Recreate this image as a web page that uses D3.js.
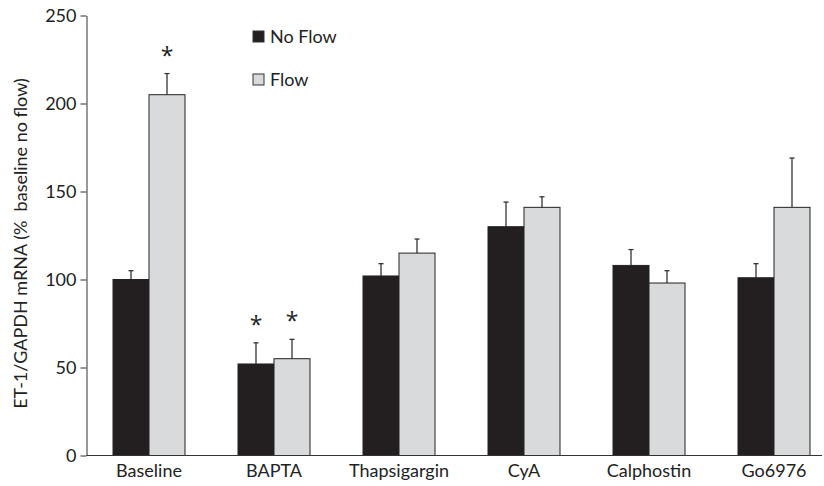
<!DOCTYPE html>
<html>
<head>
<meta charset="utf-8">
<script src="https://cdn.jsdelivr.net/npm/d3@7"></script>
<style>
  body { margin: 0; background: #fff; }
  text { font-family: Lato, "Open Sans", sans-serif; fill: #222; }
</style>
</head>
<body>
<div id="chart"></div>
<script>
var categories = ["Baseline", "BAPTA", "Thapsigargin", "CyA", "Calphostin", "Go6976"];
var series = ["No Flow", "Flow"];
var noFlow = [100, 52, 102, 130, 108, 101];
var noFlowErr = [5, 12, 7, 14, 9, 8];
var flow = [205, 55, 115, 141, 98, 141];
var flowErr = [12, 11, 8, 6, 7, 28];
// which bars carry a significance star
var noFlowStar = [false, true, false, false, false, false];
var flowStar = [true, true, false, false, false, false];
var yTicks = [0, 50, 100, 150, 200, 250];
var colors = ["#231f20", "#d9dadc"];

var width = 824, height = 486;
var margin = {top: 15.5, right: 0, bottom: 30.5, left: 86.5};
var plotH = height - margin.top - margin.bottom;

var svg = d3.select("#chart").append("svg")
    .attr("width", width)
    .attr("height", height);

var xScale = d3.scaleBand()
    .domain(categories)
    .range([margin.left, margin.left + 750])
    .paddingInner(0.424)
    .paddingOuter(0.212);

var xSub = d3.scaleBand()
    .domain(series)
    .range([0, xScale.bandwidth()]);

var yScale = d3.scaleLinear()
    .domain([0, 250])
    .range([margin.top + plotH, margin.top]);

// y axis
var yAxis = svg.append("g")
    .attr("transform", "translate(" + margin.left + ",0)")
    .call(d3.axisLeft(yScale).tickValues(yTicks).tickSize(6).tickSizeOuter(0));
yAxis.select(".domain").attr("stroke", "#333");
yAxis.selectAll(".tick line").attr("stroke", "#333");
yAxis.selectAll(".tick text")
    .attr("x", -10)
    .style("font-size", "18px")
    .style("font-family", "Lato, sans-serif")
    .attr("fill", "#222");

svg.append("text")
    .attr("transform", "translate(27," + (margin.top + plotH / 2 + 8) + ") rotate(-90)")
    .attr("text-anchor", "middle")
    .attr("xml:space", "preserve")
    .style("white-space", "pre")
    .style("font-size", "18px")
    .text("ET-1/GAPDH mRNA (%  baseline no flow)");

var rows = categories.map(function(c, i) {
    return [
        {cat: c, s: series[0], v: noFlow[i], e: noFlowErr[i], star: noFlowStar[i], color: colors[0]},
        {cat: c, s: series[1], v: flow[i], e: flowErr[i], star: flowStar[i], color: colors[1]}
    ];
});
var bars = [].concat.apply([], rows);

function barX(d) { return xScale(d.cat) + xSub(d.s); }

// error bars (drawn first so the bar covers the base)
var err = svg.append("g").selectAll("g.err")
    .data(bars)
    .enter().append("g")
    .attr("class", "err");
err.append("line")
    .attr("x1", function(d) { return barX(d) + xSub.bandwidth() / 2; })
    .attr("x2", function(d) { return barX(d) + xSub.bandwidth() / 2; })
    .attr("y1", function(d) { return yScale(d.v); })
    .attr("y2", function(d) { return yScale(d.v + d.e); })
    .attr("stroke", "#333")
    .attr("stroke-width", 1.3);
err.append("line")
    .attr("x1", function(d) { return barX(d) + xSub.bandwidth() / 2 - 2.5; })
    .attr("x2", function(d) { return barX(d) + xSub.bandwidth() / 2 + 2.5; })
    .attr("y1", function(d) { return yScale(d.v + d.e); })
    .attr("y2", function(d) { return yScale(d.v + d.e); })
    .attr("stroke", "#333")
    .attr("stroke-width", 1.3);

svg.append("g").selectAll("rect")
    .data(bars)
    .enter().append("rect")
    .attr("x", barX)
    .attr("y", function(d) { return yScale(d.v); })
    .attr("width", xSub.bandwidth())
    .attr("height", function(d) { return yScale(0) - yScale(d.v); })
    .attr("fill", function(d) { return d.color; })
    .attr("stroke", "#222")
    .attr("stroke-width", 1);

// stars
svg.append("g").selectAll("text")
    .data(bars.filter(function(d) { return d.star; }))
    .enter().append("text")
    .attr("x", function(d) { return barX(d) + xSub.bandwidth() / 2; })
    .attr("y", function(d) { return yScale(d.v + d.e) - 10; })
    .attr("text-anchor", "middle")
    .style("font-family", "'Open Sans', sans-serif")
    .style("font-size", "23px")
    .text("*");

// x axis
var xAxis = svg.append("g")
    .attr("transform", "translate(0," + yScale(0) + ")")
    .call(d3.axisBottom(xScale).tickSize(0).tickSizeOuter(0));
xAxis.select(".domain").attr("d", "M" + margin.left + ",0H822").attr("stroke", "#333");
xAxis.selectAll(".tick text")
    .attr("y", 9)
    .style("font-size", "18px")
    .style("font-family", "Lato, sans-serif")
    .attr("fill", "#222");

// legend
var legend = svg.append("g").selectAll("g")
    .data(series)
    .enter().append("g")
    .attr("transform", function(d, i) { return "translate(253," + (31 + i * 43) + ")"; });
legend.append("rect")
    .attr("width", 11)
    .attr("height", 11)
    .attr("fill", function(d, i) { return colors[i]; })
    .attr("stroke", "#333");
legend.append("text")
    .attr("x", 17)
    .attr("y", 12)
    .style("font-size", "18px")
    .text(function(d) { return d; });
</script>
</body>
</html>
